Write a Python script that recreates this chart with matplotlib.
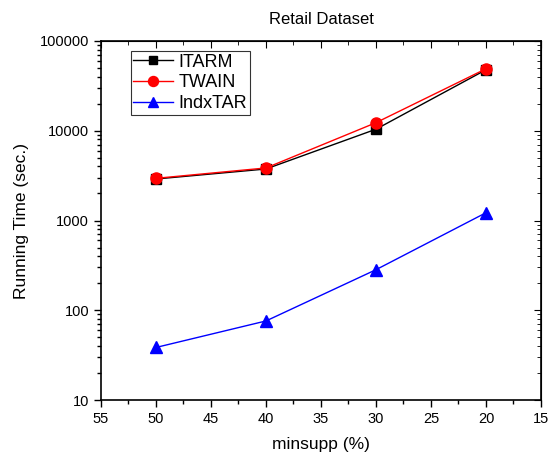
import matplotlib
matplotlib.use("Agg")
import matplotlib.pyplot as plt
from matplotlib.ticker import MultipleLocator, LogLocator, NullFormatter

plt.rcParams['font.family'] = ['Liberation Sans', 'DejaVu Sans']

# values
minsupp = [50, 40, 30, 20]
itarm = [2900, 3750, 10400, 47800]
twain = [2950, 3850, 12300, 49000]
indxtar = [38.5, 76, 283, 1220]
ytick_vals = [10, 100, 1000, 10000, 100000]
ytick_labels = ['10', '100', '1000', '10000', '100000']

fig = plt.figure(figsize=(5.5, 4.57), dpi=100)
ax = fig.add_axes([0.1836, 0.1247, 0.80, 0.7856])

ax.plot(minsupp, itarm, color='black', marker='s', markersize=7, lw=1, label='ITARM')
ax.plot(minsupp, twain, color='red', marker='o', markersize=8, lw=1, label='TWAIN')
ax.plot(minsupp, indxtar, color='blue', marker='^', markersize=8, lw=1, label='IndxTAR')

ax.set_yscale('log')
ax.set_ylim(10, 100000)
ax.set_xlim(55, 15)
ax.xaxis.set_major_locator(MultipleLocator(5))
ax.xaxis.set_minor_locator(MultipleLocator(2.5))
ax.yaxis.set_minor_locator(LogLocator(base=10, subs=range(2, 10)))
ax.yaxis.set_minor_formatter(NullFormatter())
ax.set_yticks(ytick_vals)
ax.set_yticklabels(ytick_labels)

ax.tick_params(which='major', direction='out', length=5, width=1, labelsize=10.5)
ax.tick_params(which='minor', direction='out', length=3, width=1)
for s in ax.spines.values():
    s.set_linewidth(1.2)

# mirrored axes with inward ticks, like the Origin default
top = ax.secondary_xaxis('top')
top.xaxis.set_major_locator(MultipleLocator(5))
top.xaxis.set_minor_locator(MultipleLocator(2.5))
top.tick_params(which='major', direction='in', length=5, labeltop=False)
top.tick_params(which='minor', direction='in', length=3)
right = ax.secondary_yaxis('right')
right.set_yscale('log')
right.yaxis.set_major_locator(LogLocator(base=10))
right.yaxis.set_minor_locator(LogLocator(base=10, subs=range(2, 10)))
right.yaxis.set_minor_formatter(NullFormatter())
right.tick_params(which='major', direction='in', length=5, labelright=False)
right.tick_params(which='minor', direction='in', length=3)

ax.set_xlabel('minsupp (%)', fontsize=12.5, labelpad=8)
ax.set_ylabel('Running Time (sec.)', fontsize=12.5, labelpad=8)
ax.set_title('Retail Dataset', fontsize=12, pad=12)

leg = ax.legend(loc='upper left', bbox_to_anchor=(0.0675, 0.972), fontsize=13,
                frameon=True, fancybox=False, edgecolor='black', handlelength=2.2,
                borderpad=0.15, labelspacing=0.2, handletextpad=0.3,
                borderaxespad=0, markerscale=0.9)
leg.get_frame().set_linewidth(0.8)

fig.savefig('out.png', dpi=100)
